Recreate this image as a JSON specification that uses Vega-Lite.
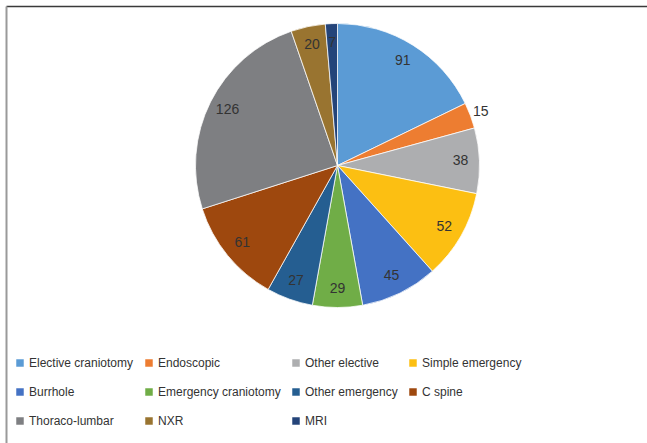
{
  "$schema": "https://vega.github.io/schema/vega-lite/v6.json",
  "width": 641,
  "height": 437,
  "autosize": {"type": "none"},
  "padding": {"left": 6, "top": 6, "right": 0, "bottom": 0},
  "background": "white",
  "config": {
    "view": {"stroke": null},
    "font": "Liberation Sans"
  },
  "data": {
    "values": [
      {"idx": 1, "category": "Elective craniotomy", "value": 91},
      {"idx": 2, "category": "Endoscopic", "value": 15},
      {"idx": 3, "category": "Other elective", "value": 38},
      {"idx": 4, "category": "Simple emergency", "value": 52},
      {"idx": 5, "category": "Burrhole", "value": 45},
      {"idx": 6, "category": "Emergency craniotomy", "value": 29},
      {"idx": 7, "category": "Other emergency", "value": 27},
      {"idx": 8, "category": "C spine", "value": 61},
      {"idx": 9, "category": "Thoraco-lumbar", "value": 126},
      {"idx": 10, "category": "NXR", "value": 20},
      {"idx": 11, "category": "MRI", "value": 7}
    ]
  },
  "layer": [
    {
      "mark": {"type": "point", "opacity": 0},
      "encoding": {
        "x": {"field": "value", "type": "quantitative",
              "axis": {"orient": "top", "labels": false, "ticks": false, "grid": false, "title": null, "domainColor": "#3a3a3a", "domainWidth": 1.5}},
        "y": {"field": "value", "type": "quantitative",
              "axis": {"orient": "left", "labels": false, "ticks": false, "grid": false, "title": null, "domainColor": "#9a9a9a", "domainWidth": 2}}
      }
    },
    {
      "mark": {"type": "arc", "radius": 142, "xOffset": 11, "yOffset": -59, "stroke": "#ffffff", "strokeWidth": 0.75},
      "encoding": {
        "theta": {"field": "value", "type": "quantitative", "stack": true},
        "order": {"field": "idx", "type": "quantitative"},
        "color": {
          "field": "category", "type": "nominal",
          "scale": {
            "domain": ["Elective craniotomy", "Endoscopic", "Other elective", "Simple emergency", "Burrhole", "Emergency craniotomy", "Other emergency", "C spine", "Thoraco-lumbar", "NXR", "MRI"],
            "range": ["#5B9BD5", "#ED7D31", "#ADAEB0", "#FCBF12", "#4472C4", "#70AD47", "#255E91", "#9E480E", "#7E7F82", "#997430", "#244479"]
          },
          "legend": {
            "title": null,
            "orient": "none",
            "legendX": 8,
            "legendY": 351,
            "direction": "horizontal",
            "columns": 4,
            "columnPadding": 9,
            "rowPadding": 17,
            "symbolType": "square",
            "symbolSize": 56,
            "symbolStrokeWidth": 0,
            "labelFont": "Liberation Sans",
            "labelFontSize": 12,
            "labelColor": "#333333",
            "labelOffset": 3,
            "labelLimit": 300,
            "padding": 0
          }
        }
      }
    },
    {
      "mark": {"type": "text", "radius": 123, "xOffset": 11, "yOffset": -59, "fontSize": 14, "font": "Liberation Sans", "color": "#333333", "align": "center", "baseline": "middle"},
      "encoding": {
        "theta": {"field": "value", "type": "quantitative", "stack": true},
        "order": {"field": "idx", "type": "quantitative"},
        "text": {"condition": {"test": "datum.category === 'Endoscopic'", "value": ""}, "field": "value", "type": "quantitative"}
      }
    },
    {
      "mark": {"type": "text", "radius": 153, "xOffset": 11, "yOffset": -59, "fontSize": 14, "font": "Liberation Sans", "color": "#333333", "align": "center", "baseline": "middle"},
      "encoding": {
        "theta": {"field": "value", "type": "quantitative", "stack": true},
        "order": {"field": "idx", "type": "quantitative"},
        "text": {"condition": {"test": "datum.category !== 'Endoscopic'", "value": ""}, "field": "value", "type": "quantitative"}
      }
    }
  ]
}
